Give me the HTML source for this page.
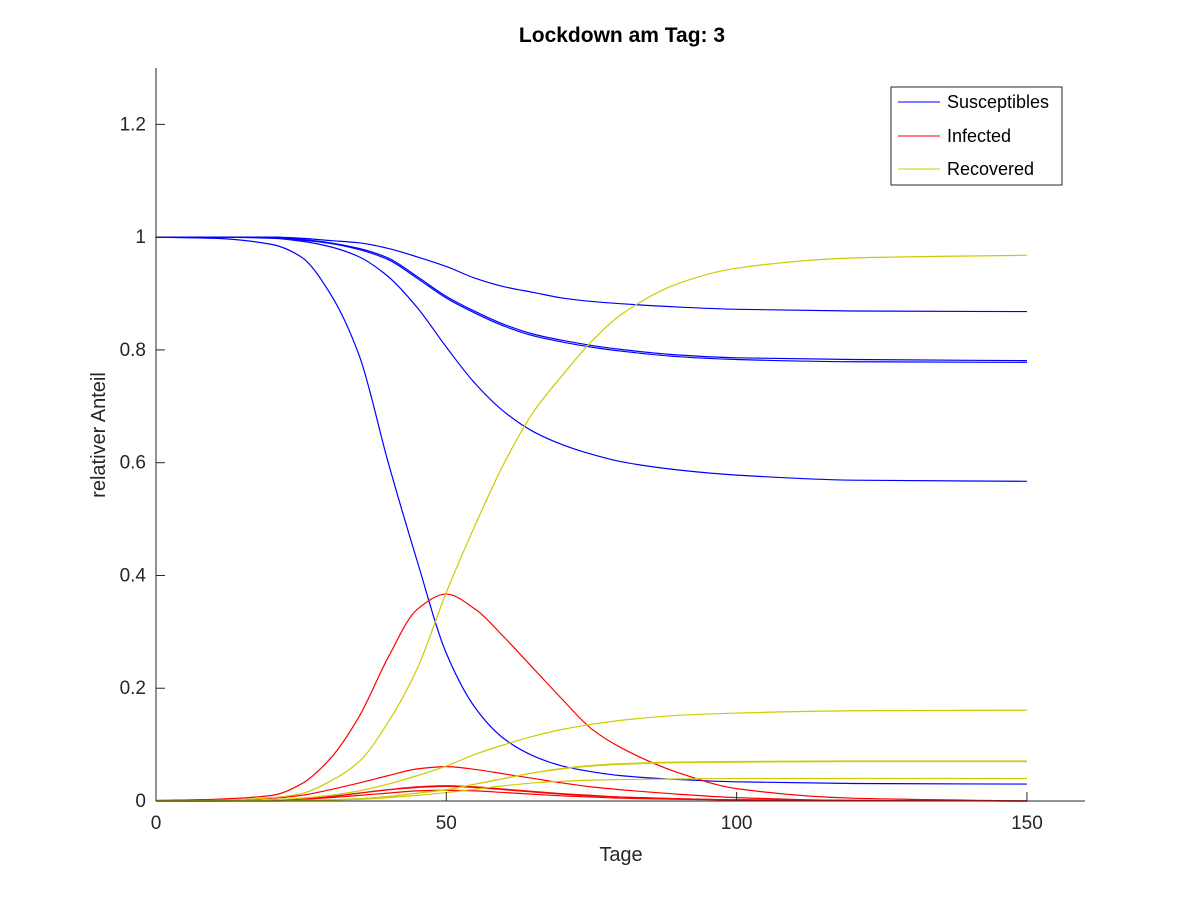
<!DOCTYPE html>
<html><head><meta charset="utf-8"><style>
body{margin:0;background:#fff;}
svg text{font-family:"Liberation Sans",sans-serif;}
</style></head><body>
<svg id="chart" width="1200" height="900">
<rect width="1200" height="900" fill="#fff"/>
<text x="622" y="42" text-anchor="middle" font-size="21" font-weight="bold">Lockdown am Tag: 3</text>
<g id="plot"></g>
<g id="axes"></g>
<text x="621" y="861" text-anchor="middle" font-size="20" fill="#262626">Tage</text>
<text transform="translate(105,435) rotate(-90)" text-anchor="middle" font-size="20" fill="#262626">relativer Anteil</text>
<g>
<rect x="891" y="87" width="171" height="98" fill="#fff" stroke="#262626" stroke-width="1"/>
<g><line x1="898" y1="102" x2="940" y2="102" stroke="#0000ff"/><text x="947" y="108" font-size="18">Susceptibles</text></g>
<g><line x1="898" y1="136" x2="940" y2="136" stroke="#ff0000"/><text x="947" y="142" font-size="18">Infected</text></g>
<g><line x1="898" y1="169" x2="940" y2="169" stroke="#cccc00"/><text x="947" y="175" font-size="18">Recovered</text></g>
</g>
</svg>
<script>
const days=[0,10,20,25,30,35,40,45,50,55,60,65,70,75,80,90,100,120,150];
const S1=[1,0.998,0.987,0.965,0.9,0.79,0.6,0.425,0.262,0.165,0.11,0.08,0.062,0.052,0.045,0.038,0.034,0.031,0.03];
const I1=[0.001,0.003,0.01,0.03,0.075,0.15,0.255,0.34,0.367,0.34,0.29,0.235,0.18,0.128,0.095,0.05,0.022,0.005,0.0];
const R1=[0,0.001,0.006,0.013,0.035,0.07,0.14,0.235,0.37,0.49,0.6,0.69,0.755,0.815,0.862,0.918,0.945,0.963,0.968];
const S2=[1,1,0.998,0.993,0.983,0.965,0.93,0.875,0.805,0.74,0.69,0.655,0.632,0.615,0.602,0.587,0.578,0.569,0.567];
const I2=[0,0.001,0.005,0.01,0.02,0.032,0.045,0.057,0.061,0.056,0.048,0.04,0.032,0.025,0.02,0.012,0.006,0.001,0];
const R2=[0,0,0.002,0.005,0.01,0.018,0.03,0.045,0.062,0.083,0.1,0.115,0.127,0.136,0.143,0.152,0.156,0.16,0.161];
const S3=[1,1,1,0.996,0.99,0.98,0.963,0.93,0.895,0.868,0.845,0.828,0.817,0.808,0.801,0.791,0.786,0.783,0.781];
const I3=[0,0,0.002,0.004,0.008,0.014,0.02,0.025,0.027,0.025,0.021,0.017,0.013,0.01,0.007,0.004,0.002,0.001,0];
const R3=[0,0,0,0.001,0.002,0.004,0.008,0.014,0.02,0.03,0.04,0.05,0.058,0.063,0.066,0.069,0.07,0.071,0.071];
const S4=[1,1,1,0.995,0.989,0.978,0.96,0.927,0.892,0.865,0.842,0.825,0.814,0.805,0.798,0.788,0.783,0.779,0.778];
const I4=[0,0,0.002,0.004,0.008,0.014,0.02,0.024,0.026,0.024,0.02,0.016,0.012,0.009,0.007,0.004,0.002,0.001,0];
const R4=[0,0,0,0.001,0.002,0.004,0.008,0.014,0.02,0.03,0.04,0.05,0.057,0.062,0.065,0.068,0.069,0.07,0.07];
const S5=[1,1,1,0.998,0.994,0.99,0.98,0.965,0.948,0.927,0.912,0.902,0.892,0.886,0.882,0.876,0.872,0.869,0.868];
const I5=[0,0,0.001,0.003,0.006,0.01,0.014,0.018,0.019,0.018,0.015,0.012,0.009,0.007,0.005,0.003,0.002,0.001,0];
const R5=[0,0,0,0.001,0.002,0.003,0.006,0.01,0.015,0.021,0.027,0.032,0.035,0.037,0.038,0.039,0.04,0.04,0.04];
const xTicks=[0,50,100,150];
const yTicks=[0,0.2,0.4,0.6,0.8,1,1.2];
const yLabels=["0","0.2","0.4","0.6","0.8","1","1.2"];
const X0=156,X1=1085,Y0=801,Y1=68,XMAX=160,YMAX=1.3;
const xs=v=>X0+(X1-X0)*v/XMAX, ys=v=>Y0-(Y0-Y1)*v/YMAX;
const NS="http://www.w3.org/2000/svg";
function path(xv,yv){
  const n=xv.length, px=xv.map(xs), py=yv.map(ys);
  const d=[],m=new Array(n);
  for(let i=0;i<n-1;i++)d.push((py[i+1]-py[i])/(px[i+1]-px[i]));
  m[0]=d[0];m[n-1]=d[n-2];
  for(let i=1;i<n-1;i++){
    if(d[i-1]*d[i]<=0)m[i]=0;
    else{const h0=px[i]-px[i-1],h1=px[i+1]-px[i];const w1=2*h1+h0,w2=h1+2*h0;m[i]=(w1+w2)/(w1/d[i-1]+w2/d[i]);}
  }
  let s="M"+px[0]+","+py[0];
  for(let i=0;i<n-1;i++){
    const h=(px[i+1]-px[i])/3;
    s+=" C"+(px[i]+h)+","+(py[i]+m[i]*h)+" "+(px[i+1]-h)+","+(py[i+1]-m[i+1]*h)+" "+px[i+1]+","+py[i+1];
  }
  return s;
}
const plot=document.getElementById('plot');
const series=[["s",S1,"#0000ff"],["s",S2,"#0000ff"],["s",S3,"#0000ff"],["s",S4,"#0000ff"],["s",S5,"#0000ff"],
["i",I1,"#ff0000"],["i",I2,"#ff0000"],["i",I3,"#ff0000"],["i",I4,"#ff0000"],["i",I5,"#ff0000"],
["r",R1,"#cccc00"],["r",R2,"#cccc00"],["r",R3,"#cccc00"],["r",R4,"#cccc00"],["r",R5,"#cccc00"]];
series.forEach((s,k)=>{
  const el=document.createElementNS(NS,'path');
  el.setAttribute('d',path(days,s[1]));el.setAttribute('fill','none');el.setAttribute('stroke',s[2]);el.setAttribute('stroke-width','1.2');
  
  
  plot.appendChild(el);
});
const ax=document.getElementById('axes');
let h=`<line x1="${X0}" y1="${Y0}" x2="${X1}" y2="${Y0}" stroke="#262626"/><line x1="${X0}" y1="${Y1}" x2="${X0}" y2="${Y0}" stroke="#262626"/>`;
xTicks.forEach(t=>{h+=`<line x1="${xs(t)}" y1="${Y0}" x2="${xs(t)}" y2="${Y0-9}" stroke="#262626"/><text x="${xs(t)}" y="${Y0+28}" text-anchor="middle" font-size="19" fill="#262626">${t}</text>`;});
yTicks.forEach((t,i)=>{h+=`<line x1="${X0}" y1="${ys(t)}" x2="${X0+9}" y2="${ys(t)}" stroke="#262626"/><text x="${X0-10}" y="${ys(t)+6}" text-anchor="end" font-size="19" fill="#262626">${yLabels[i]}</text>`;});
ax.innerHTML=h;


</script>
</body></html>
